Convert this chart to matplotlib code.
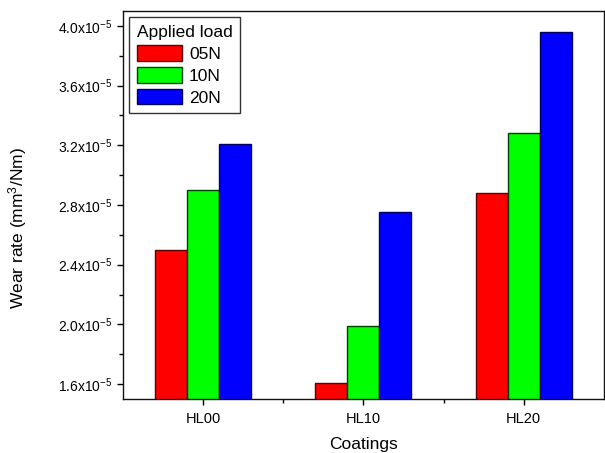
import matplotlib
matplotlib.use('Agg')
import matplotlib.pyplot as plt
import numpy as np
from matplotlib.ticker import FixedLocator, FuncFormatter

plt.rcParams['font.family'] = ['Liberation Sans', 'DejaVu Sans']
plt.rcParams['mathtext.fontset'] = 'custom'
plt.rcParams['mathtext.rm'] = 'Liberation Sans'
plt.rcParams['mathtext.it'] = 'Liberation Sans:italic'
plt.rcParams['mathtext.default'] = 'regular'
plt.rcParams['axes.unicode_minus'] = False

coatings = ['HL00', 'HL10', 'HL20']
loads = ['05N', '10N', '20N']
# wear rate, units of 1e-5 mm^3/Nm
wear_05N = [2.50, 1.61, 2.88]
wear_10N = [2.90, 1.99, 3.28]
wear_20N = [3.21, 2.75, 3.96]

series = [wear_05N, wear_10N, wear_20N]
colors = ['#ff0000', '#00ff00', '#0000ff']
edges = ['#600000', '#004000', '#000060']

fig = plt.figure(figsize=(6.05, 4.53), dpi=100)
ax = fig.add_axes([0.2033, 0.1192, 0.7947, 0.8565])

x = np.arange(1, len(coatings) + 1)
w = 0.2
for i, (vals, c, ec, lab) in enumerate(zip(series, colors, edges, loads)):
    ax.bar(x + (i - 1) * w, np.array(vals) * 1e-5, width=w, color=c,
           edgecolor=ec, linewidth=1.0, label=lab, zorder=2)

ax.set_xlim(0.5, 3.5)
ax.set_ylim(1.5e-5, 4.1e-5)

ax.set_xticks(x)
ax.set_xticklabels(coatings)
ax.xaxis.set_minor_locator(FixedLocator([1.5, 2.5]))
ytk = [1.6, 2.0, 2.4, 2.8, 3.2, 3.6, 4.0]
ax.set_yticks([v * 1e-5 for v in ytk])
ax.yaxis.set_minor_locator(FixedLocator([v * 1e-5 for v in [1.8, 2.2, 2.6, 3.0, 3.4, 3.8]]))
ax.yaxis.set_major_formatter(FuncFormatter(lambda v, p: '%.1fx10$^{-5}$' % (v * 1e5)))

ax.tick_params(axis='both', which='major', direction='out', length=4.5, width=1,
               top=False, right=False)
ax.tick_params(axis='both', which='minor', direction='out', length=2.8, width=1,
               top=False, right=False)
ax.tick_params(axis='x', which='major', labelsize=10.5, pad=5)
ax.tick_params(axis='y', which='major', labelsize=10, pad=3)

for s in ax.spines.values():
    s.set_linewidth(1.0)
    s.set_color('#111111')

ax.set_xlabel('Coatings', fontsize=12.5, labelpad=8)
ax.set_ylabel('Wear rate (mm$^3$/Nm)', fontsize=12.5, labelpad=21)
ax.yaxis.label.set_y(0.44)

leg = ax.legend(title='Applied load', loc='upper left', fontsize=12.5,
                title_fontsize=12.5, frameon=True, fancybox=False,
                borderaxespad=0.35, handlelength=2.6, handleheight=1.0,
                handletextpad=0.4, labelspacing=0.3, borderpad=0.45)
leg._legend_box.align = 'left'
leg.get_frame().set_edgecolor('black')
leg.get_frame().set_linewidth(1.0)

plt.savefig('out.png', dpi=100)
